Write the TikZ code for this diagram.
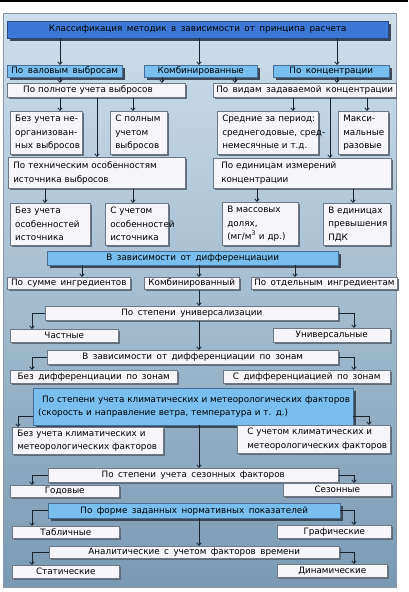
\documentclass[tikz,border=0pt]{standalone}
\usepackage{fontspec}
\setmainfont{DejaVu Sans}[WordSpace=1.6]
\usetikzlibrary{arrows.meta,shadows}
\definecolor{ptop}{RGB}{206,223,236}
\definecolor{pmid}{RGB}{166,194,214}
\definecolor{pbot}{RGB}{122,154,180}
\definecolor{pedge}{RGB}{140,150,162}
\definecolor{tfill}{RGB}{62,120,214}
\definecolor{tdraw}{RGB}{40,70,130}
\definecolor{lfill}{RGB}{122,190,238}
\definecolor{ldraw}{RGB}{70,110,150}
\definecolor{wfill}{RGB}{246,246,250}
\definecolor{wdraw}{RGB}{110,120,132}
\definecolor{shd}{RGB}{60,72,88}
\definecolor{arrc}{RGB}{25,35,45}
\newcommand\mkbox[7]{%
  \pgfmathsetmacro\bw{#4-#2}%
  \pgfmathsetmacro\bh{#5-#3}%
  \pgfmathsetmacro\btw{#4-#2-10}%
  \node[#6,minimum width=\bw pt,minimum height=\bh pt,anchor=north west] (#1) at (#2pt,-#3pt) {#7};}
\begin{document}
\begin{tikzpicture}[x=1pt,y=1pt,
  every node/.style={font=\fontsize{8.8}{13.5}\selectfont, inner ysep=0pt, inner xsep=3pt, text=black},
  tbox/.style={fill=tfill, draw=tdraw, line width=0.4pt,
    drop shadow={shadow xshift=3pt, shadow yshift=-3pt, fill=shd, opacity=1}},
  lbox/.style={fill=lfill, draw=ldraw, line width=0.4pt,
    drop shadow={shadow xshift=2.5pt, shadow yshift=-2.5pt, fill=shd, opacity=1}},
  wbox/.style={fill=wfill, draw=wdraw, line width=0.5pt,
    drop shadow={shadow xshift=1.3pt, shadow yshift=-1.3pt, fill=shd!80, opacity=1}},
  mlines/.style={text width=\btw pt, align=left, inner xsep=5pt},
  arr/.style={draw=arrc, line width=0.8pt, -{Straight Barb[length=2.6pt,width=4.4pt]}}
]
\useasboundingbox (0,0) rectangle (408,-592);
\fill[white] (0,0) rectangle (408,-592);
\fill[black] (0,0) rectangle (408,-2.2);
\shade[top color=ptop, middle color=pmid, bottom color=pbot, draw=pedge, line width=0.6pt] (3,-13) rectangle (396,-587);

\foreach \v in {18,32,45,60,82,97,133,162,199,235,257,293,295,330,337,353,354,367,369} {\coordinate (x\v) at (\v,0);}

\mkbox{title}{7}{21}{388}{38}{tbox}{Классификация методик в зависимости от принципа расчета}
\mkbox{valov}{7}{65}{122}{77}{lbox}{По валовым выбросам}
\mkbox{komb}{144}{65}{257}{77}{lbox}{Комбинированные}
\mkbox{konc}{273}{65}{389}{77}{lbox}{По концентрации}
\mkbox{polnota}{7}{83}{185}{97}{wbox,mlines,inner xsep=3pt}{\hspace*{11pt}По полноте учета выбросов}
\mkbox{vidam}{213}{83}{391}{97}{wbox}{По видам задаваемой концентрации}
\mkbox{bezneorg}{10}{111}{82}{154}{wbox,mlines,inner xsep=4pt}{\mbox{Без учета не-}\\\mbox{организован-}\\\mbox{ных выбросов}}
\mkbox{polnym}{110}{111}{167}{154}{wbox,mlines}{\mbox{С полным}\\\mbox{учетом}\\\mbox{выбросов}}
\mkbox{srednie}{217}{111}{318}{154}{wbox,mlines,inner xsep=3pt}{\mbox{Средние за период:}\\\mbox{среднегодовые, сред-}\\\mbox{немесячные и т.д.}}
\mkbox{maks}{338}{111}{388}{154}{wbox,mlines}{\mbox{Макси-}\\\mbox{мальные}\\\mbox{разовые}}
\mkbox{tehn}{8}{157}{185}{188}{wbox,mlines,inner xsep=3pt}{\mbox{По техническим особенностям}\\\mbox{источника выбросов}}
\mkbox{edin}{213}{158}{391}{188}{wbox,mlines}{\mbox{\hspace*{3pt}По единицам измерений}\\\mbox{\hspace*{3pt}концентрации}}
\mkbox{bezos}{10}{203}{90}{245}{wbox,mlines}{\mbox{Без учета}\\\mbox{особенностей}\\\mbox{источника}}
\mkbox{sucht}{105}{203}{168}{245}{wbox,mlines}{\mbox{С учетом}\\\mbox{особенностей}\\\mbox{источника}}
\mkbox{mass}{222}{202}{298}{245}{wbox,mlines}{\mbox{В массовых}\\\mbox{долях,}\\\mbox{(мг/м\textsuperscript{3} и др.)}}
\mkbox{pdk}{323}{203}{390}{245}{wbox,mlines}{\mbox{В единицах}\\\mbox{превышения}\\\mbox{ПДК}}
\mkbox{diff}{47}{251}{338}{265}{lbox}{В зависимости от дифференциации}
\mkbox{summ}{7}{277}{130}{289}{wbox}{По сумме ингредиентов}
\mkbox{kombd}{144}{277}{239}{289}{wbox}{Комбинированный}
\mkbox{otd}{251}{277}{389}{289}{wbox}{По отдельным ингредиентам}
\mkbox{univ}{45}{306}{338}{320}{wbox}{По степени универсализации}
\mkbox{chast}{10}{329}{118}{342}{wbox}{Частные}
\mkbox{univs}{273}{328}{390}{342}{wbox}{Универсальные}
\mkbox{zony}{47}{350}{338}{364}{wbox}{В зависимости от дифференциации по зонам}
\mkbox{bezz}{10}{370}{177}{383}{wbox}{Без дифференциации по зонам}
\mkbox{sz}{223}{370}{390}{383}{wbox}{С дифференциацией по зонам}
\mkbox{klim}{33}{388}{353}{425}{lbox,mlines,inner xsep=3pt}{\mbox{\hspace*{4pt}По степени учета климатических и метеорологических факторов}\\\mbox{(скорость и направление ветра, температура и т. д.)}}
\mkbox{bezk}{12}{427}{163}{454}{wbox,mlines}{\mbox{Без учета климатических и}\\\mbox{метеорологических факторов}}
\mkbox{sk}{237}{425}{390}{453}{wbox,mlines}{\mbox{\hspace*{5pt}С учетом климатических и}\\\mbox{\hspace*{5pt}метеорологических факторов}}
\mkbox{sez}{48}{468}{338}{482}{wbox}{По степени учета сезонных факторов}
\mkbox{god}{10}{485}{119}{497}{wbox}{Годовые}
\mkbox{sezon}{283}{483}{391}{496}{wbox}{Сезонные}
\mkbox{forma}{48}{503}{340}{518}{lbox}{По форме заданных нормативных показателей}
\mkbox{tabl}{12}{526}{119}{538}{wbox}{Табличные}
\mkbox{graf}{277}{525}{391}{538}{wbox}{Графические}
\mkbox{anal}{49}{546}{339}{558}{wbox}{Аналитические с учетом факторов времени}
\mkbox{stat}{12}{565}{119}{578}{wbox}{Статические}
\mkbox{din}{277}{564}{387}{577}{wbox}{Динамические}

% connectors
\draw[arr] (title.south -| x60) -- (valov.north -| x60);
\draw[arr] (title.south -| x199) -- (komb.north -| x199);
\draw[arr] (title.south -| x337) -- (konc.north -| x337);
\draw[arr] (valov.south -| x60) -- (polnota.north -| x60);
\draw[arr] (komb.south -| x162) -- (polnota.north -| x162);
\draw[arr] (komb.south -| x235) -- (vidam.north -| x235);
\draw[arr] (konc.south -| x337) -- (vidam.north -| x337);
\draw[arr] (polnota.south -| x60) -- (bezneorg.north -| x60);
\draw[arr] (polnota.south -| x97) -- (tehn.north -| x97);
\draw[arr] (polnota.south -| x133) -- (polnym.north -| x133);
\draw[arr] (vidam.south -| x293) -- (srednie.north -| x293);
\draw[arr] (vidam.south -| x330) -- (edin.north -| x330);
\draw[arr] (vidam.south -| x367) -- (maks.north -| x367);
\draw[arr] (tehn.south -| x45) -- (bezos.north -| x45);
\draw[arr] (tehn.south -| x133) -- (sucht.north -| x133);
\draw[arr] (edin.south -| x257) -- (mass.north -| x257);
\draw[arr] (edin.south -| x353) -- (pdk.north -| x353);
\draw[arr] (diff.south -| x82) -- (summ.north -| x82);
\draw[arr] (diff.south -| x199) -- (kombd.north -| x199);
\draw[arr] (diff.south -| x295) -- (otd.north -| x295);
\draw[arr] (kombd.south -| x199) -- (univ.north -| x199);
\draw[arr] (univ.west) -| (chast.north -| x32);
\draw[arr] (univ.east) -| (univs.north -| x354);
\draw[arr] (univ.south -| x199) -- (zony.north -| x199);
\draw[arr] (zony.west) -| (bezz.north -| x32);
\draw[arr] (zony.east) -| (sz.north -| x354);
\draw[arr] ([yshift=-9.5pt]klim.west) -| (bezk.north -| x18);
\draw[arr] ([yshift=-9.5pt]klim.east) -| (sk.north -| x369);
\draw[arr] (klim.south -| x199) -- (sez.north -| x199);
\draw[arr] (sez.west) -| (god.north -| x32);
\draw[arr] (sez.east) -| (sezon.north -| x354);
\draw[arr] (forma.west) -| (tabl.north -| x32);
\draw[arr] (forma.east) -| (graf.north -| x354);
\draw[arr] (forma.south -| x199) -- (anal.north -| x199);
\draw[arr] (anal.west) -| (stat.north -| x32);
\draw[arr] (anal.east) -| (din.north -| x354);
\end{tikzpicture}
\end{document}
